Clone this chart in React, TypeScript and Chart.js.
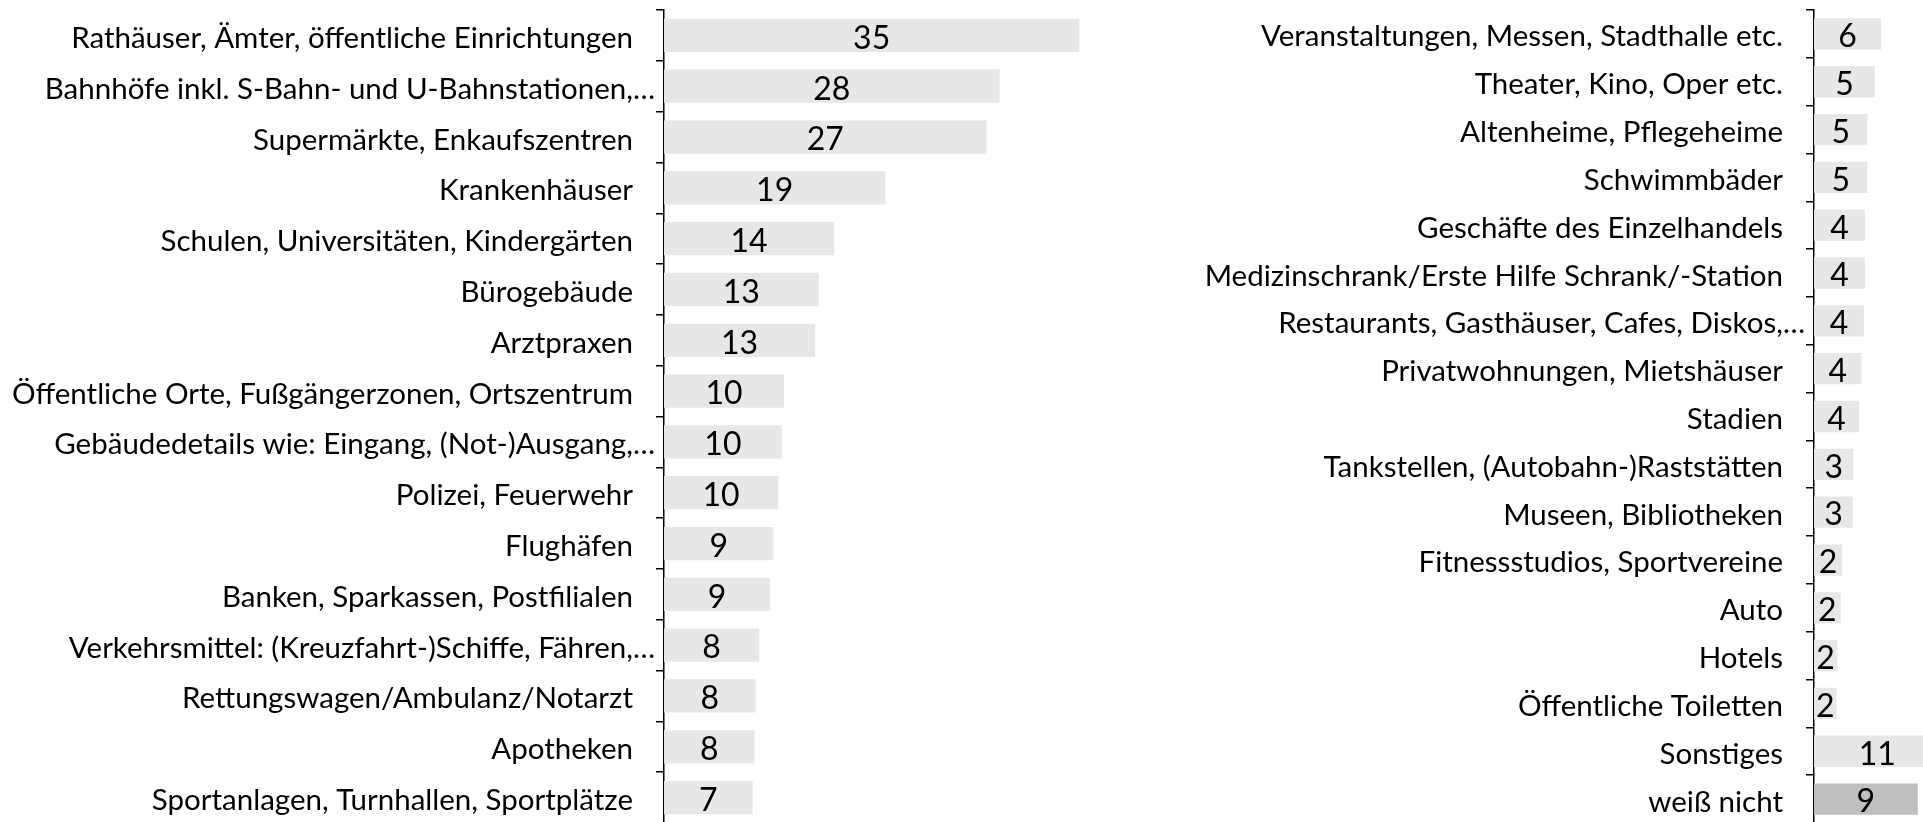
import React, { useEffect, useRef } from "react";
import { Chart, registerables } from "chart.js";

Chart.register(...registerables);

// ---------- data ----------
const leftCategories: string[] = [
  "Rathäuser, Ämter, öffentliche Einrichtungen",
  "Bahnhöfe inkl. S-Bahn- und U-Bahnstationen,\u2026",
  "Supermärkte, Enkaufszentren",
  "Krankenhäuser",
  "Schulen, Universitäten, Kindergärten",
  "Bürogebäude",
  "Arztpraxen",
  "Öffentliche Orte, Fußgängerzonen, Ortszentrum",
  "Gebäudedetails wie: Eingang, (Not-)Ausgang,\u2026",
  "Polizei, Feuerwehr",
  "Flughäfen",
  "Banken, Sparkassen, Postfilialen",
  "Verkehrsmittel: (Kreuzfahrt-)Schiffe, Fähren,\u2026",
  "Rettungswagen/Ambulanz/Notarzt",
  "Apotheken",
  "Sportanlagen, Turnhallen, Sportplätze",
];
const leftValues: number[] = [
  34.9, 28.2, 27.1, 18.6, 14.3, 13.0, 12.7, 10.1, 9.9, 9.6, 9.2, 8.9, 8.0, 7.7, 7.6, 7.45,
];

const rightCategories: string[] = [
  "Veranstaltungen, Messen, Stadthalle etc.",
  "Theater, Kino, Oper etc.",
  "Altenheime, Pflegeheime",
  "Schwimmbäder",
  "Geschäfte des Einzelhandels",
  "Medizinschrank/Erste Hilfe Schrank/-Station",
  "Restaurants, Gasthäuser, Cafes, Diskos,\u2026",
  "Privatwohnungen, Mietshäuser",
  "Stadien",
  "Tankstellen, (Autobahn-)Raststätten",
  "Museen, Bibliotheken",
  "Fitnessstudios, Sportvereine",
  "Auto",
  "Hotels",
  "Öffentliche Toiletten",
  "Sonstiges",
  "weiß nicht",
];
const rightValues: number[] = [
  5.8, 5.25, 4.6, 4.6, 4.4, 4.4, 4.3, 4.1, 3.9, 3.4, 3.35, 2.4, 2.3, 2.0, 1.95, 10.9, 8.95,
];

const highlightCategory = "weiß nicht";

// ---------- styles ----------
const BAR_COLOR = "#e7e7e7";
const HIGHLIGHT_COLOR = "#bfbfbf";
const TEXT_COLOR = "#000000";
const FONT_FAMILY = "Lato, 'Open Sans', sans-serif";
const CAT_FONT_SIZE = 29.5;
const VALUE_FONT_SIZE = 32;
const TICK_LEN = 8;

const CANVAS_H = 823;
const LEFT_W = 1140;
const RIGHT_W = 783;

const textPlugin = {
  id: "textPlugin",
  afterDraw(chart: any) {
    const ctx = chart.ctx;
    const yScale = chart.scales.y;
    const meta = chart.getDatasetMeta(0);
    const values = chart.data.datasets[0].data as number[];
    const labels = chart.data.labels as string[];
    ctx.save();
    ctx.fillStyle = TEXT_COLOR;
    ctx.textBaseline = "middle";
    ctx.textAlign = "right";
    ctx.font = `${CAT_FONT_SIZE}px ${FONT_FAMILY}`;
    labels.forEach((lab, i) => {
      const y = yScale.getPixelForTick(i);
      const gap = lab.endsWith("\u2026") ? 1 : 23;
      ctx.fillText(lab, yScale.right - TICK_LEN - gap, y + 3);
    });
    ctx.textAlign = "center";
    ctx.font = `${VALUE_FONT_SIZE}px ${FONT_FAMILY}`;
    meta.data.forEach((bar: any, i: number) => {
      const cx = (bar.x + bar.base) / 2;
      ctx.fillText(String(Math.round(values[i])), cx, bar.y + 3);
    });
    ctx.restore();
  },
};

function makeConfig(labels: string[], values: number[], max: number, axisWidth: number): any {
  const colors = labels.map((l) => (l === highlightCategory ? HIGHLIGHT_COLOR : BAR_COLOR));
  return {
    type: "bar",
    data: {
      labels,
      datasets: [
        {
          data: values,
          backgroundColor: colors,
          borderWidth: 0,
          categoryPercentage: 1,
          barPercentage: 0.655,
        },
      ],
    },
    options: {
      indexAxis: "y",
      animation: false,
      responsive: false,
      maintainAspectRatio: false,
      layout: { padding: { top: 10, right: 0, bottom: 0, left: 0 } },
      plugins: { legend: { display: false }, tooltip: { enabled: false } },
      scales: {
        x: { display: false, min: 0, max },
        y: {
          display: true,
          offset: true,
          grid: {
            display: true,
            offset: true,
            drawOnChartArea: false,
            drawTicks: true,
            tickLength: TICK_LEN,
            color: "#000000",
            lineWidth: 1.5,
          },
          border: { display: true, color: "#000000", width: 1.5 },
          ticks: { display: false },
          afterFit: (s: any) => {
            s.width = axisWidth;
          },
        },
      },
    },
    plugins: [textPlugin],
  };
}

function BarPanel(props: { labels: string[]; values: number[]; max: number; axisWidth: number; width: number; left: number }) {
  const ref = useRef<HTMLCanvasElement | null>(null);
  useEffect(() => {
    if (!ref.current) return;
    const chart = new Chart(ref.current, makeConfig(props.labels, props.values, props.max, props.axisWidth));
    return () => chart.destroy();
  }, []);
  return (
    <canvas
      ref={ref}
      width={props.width}
      height={CANVAS_H}
      style={{ position: "absolute", left: props.left, top: 0, width: props.width, height: CANVAS_H }}
    />
  );
}

export default function App() {
  return (
    <div
      style={{
        position: "fixed",
        left: 0,
        top: 0,
        width: 1923,
        height: 822,
        overflow: "hidden",
        background: "#ffffff",
      }}
    >
      <BarPanel labels={leftCategories} values={leftValues} max={40} axisWidth={664} width={LEFT_W} left={0} />
      <BarPanel labels={rightCategories} values={rightValues} max={9.4} axisWidth={674} width={RIGHT_W} left={LEFT_W} />
    </div>
  );
}
